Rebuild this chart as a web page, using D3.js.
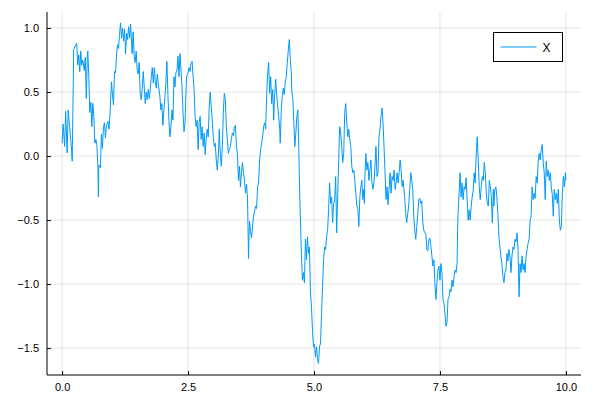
<!DOCTYPE html>
<html>
<head>
<meta charset="utf-8">
<script src="https://cdn.jsdelivr.net/npm/d3@7"></script>
<style>
  body { margin: 0; background: #fff; }
  svg { display: block; font-family: "Liberation Sans", Arial, sans-serif; }
</style>
</head>
<body>
<script>
// valores (t, x)
var tiempos = [
  0.00,0.02,0.05,0.07,0.10,0.12,0.15,0.17,0.19,0.20,0.23,0.27,0.29,0.31,0.33,0.35,0.37,0.39,0.41,0.44,
  0.46,0.48,0.50,0.51,0.53,0.55,0.57,0.59,0.61,0.63,0.65,0.67,0.69,0.71,0.72,0.73,0.76,0.78,0.80,0.82,
  0.84,0.86,0.88,0.91,0.93,0.95,0.98,1.00,1.02,1.04,1.06,1.08,1.10,1.12,1.14,1.16,1.18,1.20,1.22,1.24,
  1.26,1.28,1.30,1.32,1.34,1.36,1.39,1.41,1.43,1.45,1.47,1.49,1.51,1.53,1.55,1.57,1.59,1.61,1.63,1.65,
  1.67,1.69,1.71,1.73,1.75,1.77,1.79,1.81,1.83,1.85,1.87,1.89,1.91,1.94,1.96,1.98,2.00,2.02,2.04,2.06,
  2.08,2.10,2.12,2.14,2.16,2.18,2.20,2.22,2.24,2.26,2.28,2.30,2.32,2.34,2.36,2.38,2.40,2.42,2.44,2.45,
  2.47,2.50,2.52,2.54,2.56,2.58,2.60,2.62,2.64,2.66,2.68,2.70,2.72,2.74,2.76,2.78,2.80,2.82,2.84,2.86,
  2.88,2.90,2.92,2.94,2.96,2.98,3.00,3.02,3.04,3.06,3.08,3.10,3.12,3.14,3.16,3.18,3.20,3.22,3.24,3.26,
  3.28,3.30,3.32,3.34,3.36,3.38,3.40,3.42,3.44,3.46,3.48,3.50,3.52,3.54,3.56,3.58,3.60,3.62,3.64,3.66,
  3.68,3.69,3.70,3.71,3.72,3.74,3.76,3.78,3.80,3.82,3.84,3.86,3.88,3.90,3.92,3.94,3.96,3.98,4.00,4.02,
  4.04,4.06,4.08,4.10,4.12,4.14,4.16,4.18,4.20,4.22,4.24,4.26,4.28,4.30,4.32,4.33,4.35,4.37,4.39,4.41,
  4.43,4.45,4.47,4.49,4.51,4.53,4.55,4.56,4.58,4.60,4.62,4.64,4.66,4.68,4.70,4.72,4.75,4.77,4.79,4.81,
  4.83,4.85,4.87,4.89,4.91,4.93,4.95,4.97,4.99,5.01,5.03,5.05,5.07,5.09,5.11,5.13,5.15,5.17,5.19,5.21,
  5.23,5.25,5.27,5.29,5.31,5.33,5.35,5.37,5.39,5.41,5.43,5.45,5.47,5.49,5.51,5.53,5.55,5.57,5.59,5.61,
  5.63,5.65,5.67,5.69,5.71,5.73,5.75,5.77,5.79,5.81,5.83,5.85,5.87,5.89,5.91,5.93,5.95,5.97,5.99,6.00,
  6.01,6.03,6.05,6.07,6.09,6.11,6.13,6.15,6.17,6.19,6.21,6.23,6.25,6.27,6.29,6.31,6.33,6.35,6.37,6.39,
  6.41,6.43,6.45,6.47,6.49,6.51,6.53,6.55,6.57,6.59,6.61,6.63,6.65,6.67,6.69,6.71,6.73,6.75,6.77,6.78,
  6.80,6.82,6.84,6.86,6.88,6.90,6.92,6.94,6.96,6.98,7.00,7.02,7.04,7.06,7.08,7.10,7.12,7.14,7.16,7.18,
  7.20,7.22,7.24,7.26,7.28,7.30,7.32,7.34,7.36,7.38,7.40,7.42,7.44,7.46,7.48,7.50,7.52,7.54,7.56,7.58,
  7.60,7.62,7.64,7.66,7.68,7.70,7.72,7.74,7.76,7.78,7.80,7.82,7.84,7.85,7.86,7.88,7.90,7.92,7.94,7.96,
  7.98,8.00,8.02,8.04,8.06,8.08,8.10,8.12,8.14,8.16,8.18,8.20,8.22,8.24,8.26,8.28,8.30,8.32,8.34,8.36,
  8.38,8.40,8.42,8.44,8.46,8.48,8.50,8.52,8.54,8.56,8.57,8.59,8.61,8.63,8.65,8.67,8.69,8.71,8.73,8.75,
  8.77,8.79,8.81,8.83,8.85,8.87,8.89,8.91,8.93,8.95,8.97,8.99,9.01,9.03,9.05,9.07,9.09,9.11,9.13,9.15,
  9.17,9.19,9.21,9.23,9.25,9.27,9.29,9.31,9.33,9.35,9.37,9.39,9.41,9.43,9.45,9.47,9.49,9.51,9.53,9.55,
  9.57,9.59,9.61,9.63,9.65,9.67,9.69,9.71,9.73,9.75,9.77,9.79,9.81,9.83,9.85,9.87,9.89,9.91,9.93,9.95,
  9.97,9.99,10.00
];
var valoresX = [
  0.10,0.25,0.075,0.35,0.025,0.36,0.23,0.13,0.04,-0.04,0.83,0.87,0.88,0.71,0.79,0.66,0.82,0.71,0.75,0.67,
  0.77,0.45,0.78,0.82,0.62,0.34,0.42,0.23,0.41,0.31,0.10,0.13,0.09,-0.08,-0.32,-0.07,-0.09,0.17,0.06,0.22,
  0.26,0.14,0.24,0.27,0.21,0.32,0.58,0.48,0.40,0.66,0.65,0.79,0.87,0.84,0.95,1.04,0.92,1.00,0.90,0.99,
  0.80,0.96,0.91,1.01,0.92,1.03,0.80,0.97,0.78,0.73,0.82,0.67,0.64,0.73,0.49,0.44,0.52,0.66,0.54,0.41,
  0.50,0.44,0.52,0.45,0.52,0.62,0.69,0.57,0.69,0.58,0.53,0.64,0.56,0.47,0.36,0.41,0.24,0.36,0.46,0.57,
  0.74,0.48,0.28,0.15,0.23,0.36,0.28,0.62,0.54,0.65,0.67,0.78,0.62,0.80,0.67,0.54,0.34,0.19,0.26,0.40,
  0.62,0.65,0.69,0.66,0.73,0.74,0.62,0.52,0.31,0.23,0.28,0.05,0.26,0.31,0.13,0.23,0.075,0.18,0.01,0.13,
  0.21,0.15,0.39,0.50,0.39,0.28,0.15,0.075,0.10,-0.03,-0.11,0.00,0.21,0.02,-0.08,0.075,0.34,0.49,0.44,0.23,
  0.13,0.02,0.05,0.075,0.13,0.18,0.16,0.23,0.24,0.075,0.02,-0.19,-0.08,-0.24,-0.13,-0.05,-0.13,-0.19,-0.29,-0.22,
  -0.33,-0.55,-0.80,-0.62,-0.51,-0.59,-0.64,-0.55,-0.47,-0.43,-0.39,-0.41,-0.24,-0.21,-0.03,0.05,0.10,0.15,0.23,0.26,
  0.21,0.47,0.65,0.73,0.49,0.62,0.41,0.52,0.28,0.49,0.60,0.47,0.39,0.31,0.21,0.10,0.36,0.47,0.53,0.48,
  0.58,0.62,0.73,0.83,0.91,0.75,0.65,0.50,0.45,0.26,0.075,0.18,0.31,0.36,0.02,-0.36,-0.76,-0.97,-0.91,-0.99,
  -0.65,-0.81,-0.63,-0.76,-0.71,-1.07,-1.18,-1.36,-1.49,-1.47,-1.57,-1.49,-1.59,-1.62,-1.49,-1.46,-1.23,-1.02,-0.81,-0.71,
  -0.73,-0.63,-0.58,-0.42,-0.21,-0.37,-0.32,-0.52,-0.37,-0.34,-0.16,-0.60,-0.32,-0.03,0.23,0.18,0.075,-0.05,0.02,0.34,
  0.41,0.26,0.15,0.21,0.13,0.075,-0.08,-0.13,-0.11,-0.19,-0.29,-0.39,-0.41,-0.55,-0.32,-0.24,-0.19,-0.34,-0.26,-0.37,
  -0.16,0.02,-0.11,-0.05,-0.19,-0.11,-0.03,-0.21,-0.26,-0.21,-0.08,0.075,-0.16,-0.14,0.15,0.21,0.31,0.375,0.26,0.075,
  -0.13,-0.34,-0.24,-0.38,-0.26,-0.13,-0.29,-0.16,-0.19,-0.11,-0.26,-0.21,-0.13,-0.21,-0.13,-0.03,-0.11,-0.24,-0.19,-0.24,
  -0.32,-0.45,-0.52,-0.45,-0.39,-0.26,-0.13,-0.19,-0.26,-0.47,-0.58,-0.65,-0.55,-0.45,-0.34,-0.33,-0.37,-0.35,-0.52,-0.58,
  -0.60,-0.61,-0.73,-0.74,-0.65,-0.64,-0.70,-0.78,-0.86,-0.81,-0.99,-1.12,-1.00,-0.89,-0.86,-0.97,-0.84,-0.91,-1.12,-1.15,
  -1.23,-1.33,-1.30,-1.12,-1.10,-1.04,-1.06,-0.97,-1.02,-0.94,-0.89,-0.91,-0.84,-0.58,-0.45,-0.29,-0.13,-0.32,-0.21,-0.34,
  -0.24,-0.26,-0.17,-0.34,-0.50,-0.42,-0.50,-0.39,-0.32,-0.27,-0.13,-0.21,0.02,0.15,-0.03,-0.24,-0.34,-0.24,-0.16,-0.19,
  -0.05,-0.13,-0.29,-0.37,-0.39,-0.19,-0.24,-0.32,-0.52,-0.26,-0.39,-0.26,-0.24,-0.32,-0.45,-0.63,-0.71,-0.78,-0.84,-0.94,
  -0.99,-0.91,-0.89,-0.76,-0.82,-0.73,-0.78,-0.91,-0.78,-0.71,-0.73,-0.65,-0.67,-0.60,-0.73,-1.10,-0.84,-0.91,-0.78,-0.89,
  -0.84,-0.91,-0.78,-0.73,-0.68,-0.65,-0.50,-0.47,-0.24,-0.34,-0.29,-0.33,-0.16,-0.21,-0.05,0.02,-0.03,0.05,0.09,-0.05,
  -0.13,-0.34,-0.04,-0.16,-0.11,-0.19,-0.13,-0.24,-0.30,-0.47,-0.26,-0.34,-0.29,-0.37,-0.26,-0.50,-0.58,-0.55,-0.29,-0.16,
  -0.24,-0.13,-0.19
];
var ticksX = [0, 2.5, 5, 7.5, 10];
var ticksY = [-1.5, -1.0, -0.5, 0.0, 0.5, 1.0];
var nombreSerie = "X";

var datos = tiempos.map(function(t, i) { return {t: t, v: valoresX[i]}; });

var width = 600, height = 400;
var margin = {top: 12, right: 19, bottom: 25, left: 47};

var svg = d3.select("body").append("svg")
    .attr("width", width)
    .attr("height", height);

var x = d3.scaleLinear().domain([-0.3, 10.3]).range([margin.left, width - margin.right]);
var y = d3.scaleLinear().domain([-1.71, 1.125]).range([height - margin.bottom, margin.top]);

// rejilla
svg.append("g").selectAll("line").data(ticksX).enter().append("line")
    .attr("x1", d => x(d)).attr("x2", d => x(d))
    .attr("y1", margin.top).attr("y2", height - margin.bottom)
    .attr("stroke", "#000").attr("stroke-opacity", 0.1).attr("stroke-width", 1);
svg.append("g").selectAll("line").data(ticksY).enter().append("line")
    .attr("x1", margin.left).attr("x2", width - margin.right)
    .attr("y1", d => y(d)).attr("y2", d => y(d))
    .attr("stroke", "#000").attr("stroke-opacity", 0.1).attr("stroke-width", 1);

// ejes
var ejeX = svg.append("g")
    .attr("transform", "translate(0," + (height - margin.bottom) + ")")
    .call(d3.axisBottom(x).tickValues(ticksX).tickSize(-4).tickPadding(8).tickFormat(d3.format(".1f")));
var ejeY = svg.append("g")
    .attr("transform", "translate(" + margin.left + ",0)")
    .call(d3.axisLeft(y).tickValues(ticksY).tickSize(-4).tickPadding(8).tickFormat(d3.format(".1f")));

[ejeX, ejeY].forEach(function(g) {
    g.select(".domain").attr("stroke", "#000").attr("stroke-width", 1);
    g.selectAll(".tick line").attr("stroke", "#000");
    g.selectAll("text").attr("fill", "#000").style("font-size", "11px")
        .style("font-family", "'Liberation Sans', Arial, sans-serif");
});
ejeY.select(".domain").attr("d", "M0," + margin.top + "V" + (height - margin.bottom));
ejeX.select(".domain").attr("d", "M" + margin.left + ",0H" + (width - margin.right));

// serie
svg.append("path")
    .datum(datos)
    .attr("fill", "none")
    .attr("stroke", "#009af9")
    .attr("stroke-width", 1)
    .attr("stroke-linejoin", "round")
    .attr("d", d3.line().x(d => x(d.t)).y(d => y(d.v)));

// leyenda
var leyenda = svg.append("g").attr("transform", "translate(493.5,32.5)");
leyenda.append("rect")
    .attr("width", 69).attr("height", 29)
    .attr("fill", "#fff").attr("stroke", "#000").attr("stroke-width", 1);
leyenda.append("line")
    .attr("x1", 7).attr("x2", 43).attr("y1", 14.5).attr("y2", 14.5)
    .attr("stroke", "#009af9").attr("stroke-width", 1);
leyenda.append("text")
    .attr("x", 49).attr("y", 19)
    .style("font-size", "12px")
    .text(nombreSerie);
</script>
</body>
</html>
